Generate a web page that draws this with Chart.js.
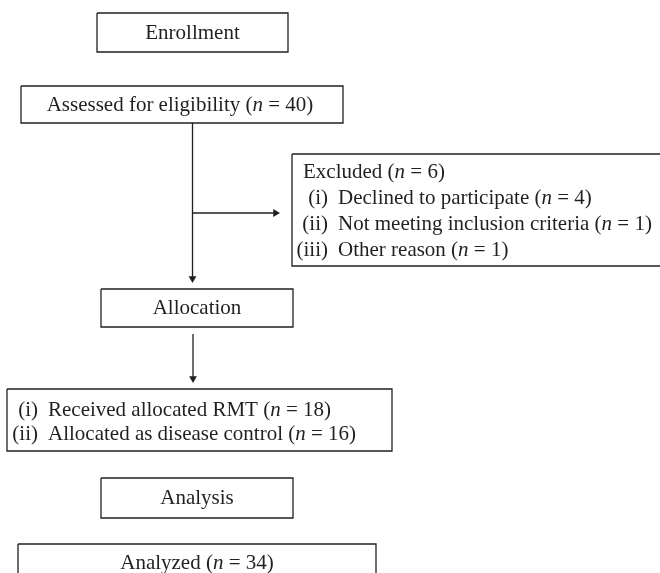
<!DOCTYPE html>
<html>
<head>
<meta charset="utf-8">
<script src="https://cdn.jsdelivr.net/npm/chart.js@4/dist/chart.umd.min.js"></script>
<style>
  html, body { margin: 0; padding: 0; background: #fff; }
  #wrap { width: 660px; height: 573px; position: relative; }
</style>
</head>
<body>
<div id="wrap"><canvas id="flow"></canvas></div>
<script>
// Flow data (CONSORT style)
const stageLabels = ['Enrollment', 'Allocation', 'Analysis'];
const assessedLabel = 'Assessed for eligibility';
const assessedN = 40;
const excludedLabel = 'Excluded';
const excludedN = 6;
const excludedReasons = ['Declined to participate', 'Not meeting inclusion criteria', 'Other reason'];
const excludedCounts = [4, 1, 1];
const allocatedGroups = ['Received allocated RMT', 'Allocated as disease control'];
const allocatedCounts = [18, 16];
const analyzedLabel = 'Analyzed';
const analyzedN = 34;
const numerals = ['(i)', '(ii)', '(iii)'];

// Layout of boxes in page units [x0, y0, x1, y1]
const boxes = {
    enrollment: [97, 13, 288, 52],
    assessed: [21, 86, 343, 123],
    excluded: [292, 154, 680, 266],
    allocation: [101, 289, 293, 327],
    allocated: [7, 389, 392, 451],
    analysis: [101, 478, 293, 518],
    analyzed: [18, 544, 376, 600]
};

const FONT = '"Liberation Serif", "DejaVu Serif", serif';
const FSIZE = 21;
const INK = '#231f20';

function rect(b) {
    return [
        { x: b[0], y: b[1] }, { x: b[2], y: b[1] },
        { x: b[2], y: b[3] }, { x: b[0], y: b[3] }, { x: b[0], y: b[1] }
    ];
}

var datasets = [];
for (const key of Object.keys(boxes)) {
    datasets.push({
        data: rect(boxes[key]),
        showLine: true,
        borderColor: INK,
        borderWidth: 1.3,
        pointRadius: 0,
        fill: false
    });
}

// arrows: line + triangle head on the last point
function arrow(pts, rot) {
    return {
        data: pts,
        showLine: true,
        borderColor: INK,
        backgroundColor: INK,
        borderWidth: 1.3,
        pointStyle: 'triangle',
        pointRotation: rot,
        pointRadius: [0, 4.5],
        pointBorderWidth: 0,
        fill: false
    };
}
datasets.push(arrow([{ x: 192.5, y: 123 }, { x: 192.5, y: 278.5 }], 180));
datasets.push(arrow([{ x: 192.5, y: 213 }, { x: 275.5, y: 213 }], 90));
datasets.push(arrow([{ x: 193, y: 334 }, { x: 193, y: 378.5 }], 180));

// text runs: [string, italic]
function withN(label, n) {
    return [[label + ' (', false], ['n', true], [' = ' + n + ')', false]];
}

function setFont(ctx, italic) {
    ctx.font = (italic ? 'italic ' : '') + FSIZE + 'px ' + FONT;
}

function runsWidth(ctx, runs) {
    var w = 0;
    for (const r of runs) {
        setFont(ctx, r[1]);
        w += ctx.measureText(r[0]).width;
    }
    return w;
}

function drawRuns(ctx, runs, x, y, align) {
    var start = x;
    if (align === 'center') start = x - runsWidth(ctx, runs) / 2;
    if (align === 'right') start = x - runsWidth(ctx, runs);
    for (const r of runs) {
        setFont(ctx, r[1]);
        ctx.fillText(r[0], start, y);
        start += ctx.measureText(r[0]).width;
    }
}

const textPlugin = {
    id: 'flowText',
    afterDatasetsDraw(chart) {
        const ctx = chart.ctx;
        const sx = chart.scales.x, sy = chart.scales.y;
        const X = v => sx.getPixelForValue(v);
        const Y = v => sy.getPixelForValue(v);
        ctx.save();
        ctx.fillStyle = INK;
        ctx.textBaseline = 'middle';

        drawRuns(ctx, [[stageLabels[0], false]], X(192.5), Y(33), 'center');
        drawRuns(ctx, withN(assessedLabel, assessedN), X(180), Y(105), 'center');

        // excluded box
        drawRuns(ctx, withN(excludedLabel, excludedN), X(303), Y(172), 'left');
        for (let i = 0; i < excludedReasons.length; i++) {
            const yy = 198 + i * 26;
            drawRuns(ctx, [[numerals[i], false]], X(328), Y(yy), 'right');
            drawRuns(ctx, withN(excludedReasons[i], excludedCounts[i]), X(338), Y(yy), 'left');
        }

        drawRuns(ctx, [[stageLabels[1], false]], X(197), Y(308), 'center');

        for (let i = 0; i < allocatedGroups.length; i++) {
            const yy = 410 + i * 24;
            drawRuns(ctx, [[numerals[i], false]], X(38), Y(yy), 'right');
            drawRuns(ctx, withN(allocatedGroups[i], allocatedCounts[i]), X(48), Y(yy), 'left');
        }

        drawRuns(ctx, [[stageLabels[2], false]], X(197), Y(498), 'center');
        drawRuns(ctx, withN(analyzedLabel, analyzedN), X(197), Y(563), 'center');
        ctx.restore();
    }
};

new Chart(document.getElementById('flow'), {
    type: 'scatter',
    data: { datasets: datasets },
    options: {
        responsive: true,
        maintainAspectRatio: false,
        animation: false,
        layout: { padding: 0, autoPadding: false },
        plugins: { legend: { display: false }, tooltip: { enabled: false } },
        scales: {
            x: { type: 'linear', min: 0, max: 660, display: false },
            y: { type: 'linear', min: 0, max: 573, reverse: true, display: false }
        }
    },
    plugins: [textPlugin]
});
</script>
</body>
</html>
